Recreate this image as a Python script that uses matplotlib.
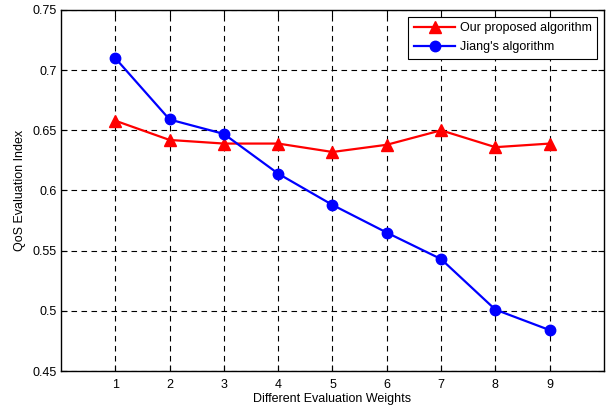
import matplotlib
matplotlib.use("Agg")
import matplotlib.pyplot as plt

plt.rcParams['font.family'] = ['Liberation Sans', 'DejaVu Sans']

weights = [1, 2, 3, 4, 5, 6, 7, 8, 9]
proposed = [0.658, 0.642, 0.639, 0.639, 0.632, 0.638, 0.650, 0.636, 0.639]
jiang = [0.710, 0.659, 0.647, 0.614, 0.588, 0.565, 0.543, 0.501, 0.484]
yticks = [0.45, 0.5, 0.55, 0.6, 0.65, 0.7, 0.75]
ytick_labels = ['0.45', '0.5', '0.55', '0.6', '0.65', '0.7', '0.75']

fig = plt.figure(figsize=(6.08, 4.11), dpi=100)
ax = fig.add_axes([0.1003, 0.0973, 0.8931, 0.8784])

ax.plot(weights, proposed, color='#ff0000', marker='^', markersize=8, linewidth=1.6,
        label='Our proposed algorithm')
ax.plot(weights, jiang, color='#0000ff', marker='o', markersize=7.5, linewidth=1.6,
        label="Jiang's algorithm")

ax.set_xlim(0, 10)
ax.set_ylim(0.45, 0.75)
ax.set_xticks(weights)
ax.set_yticks(yticks)
ax.set_yticklabels(ytick_labels)
ax.grid(True, color='black', linestyle=(0, (5, 4)), linewidth=0.8)
ax.tick_params(direction='in', top=True, right=True, labelsize=9, length=4, width=0.8)
ax.tick_params(axis='x', pad=6)
ax.tick_params(axis='y', pad=3)
for s in ax.spines.values():
    s.set_linewidth(1.0)

ax.set_xlabel('Different Evaluation Weights', fontsize=9, labelpad=1)
ax.set_ylabel('QoS Evaluation Index', fontsize=9, labelpad=5)

leg = ax.legend(loc='upper right', fontsize=9, fancybox=False, edgecolor='black',
                framealpha=1, borderaxespad=0.55, handlelength=3.3, borderpad=0.45,
                labelspacing=0.55, handletextpad=0.35)
leg.get_frame().set_linewidth(0.8)

fig.savefig('out.png', dpi=100)
